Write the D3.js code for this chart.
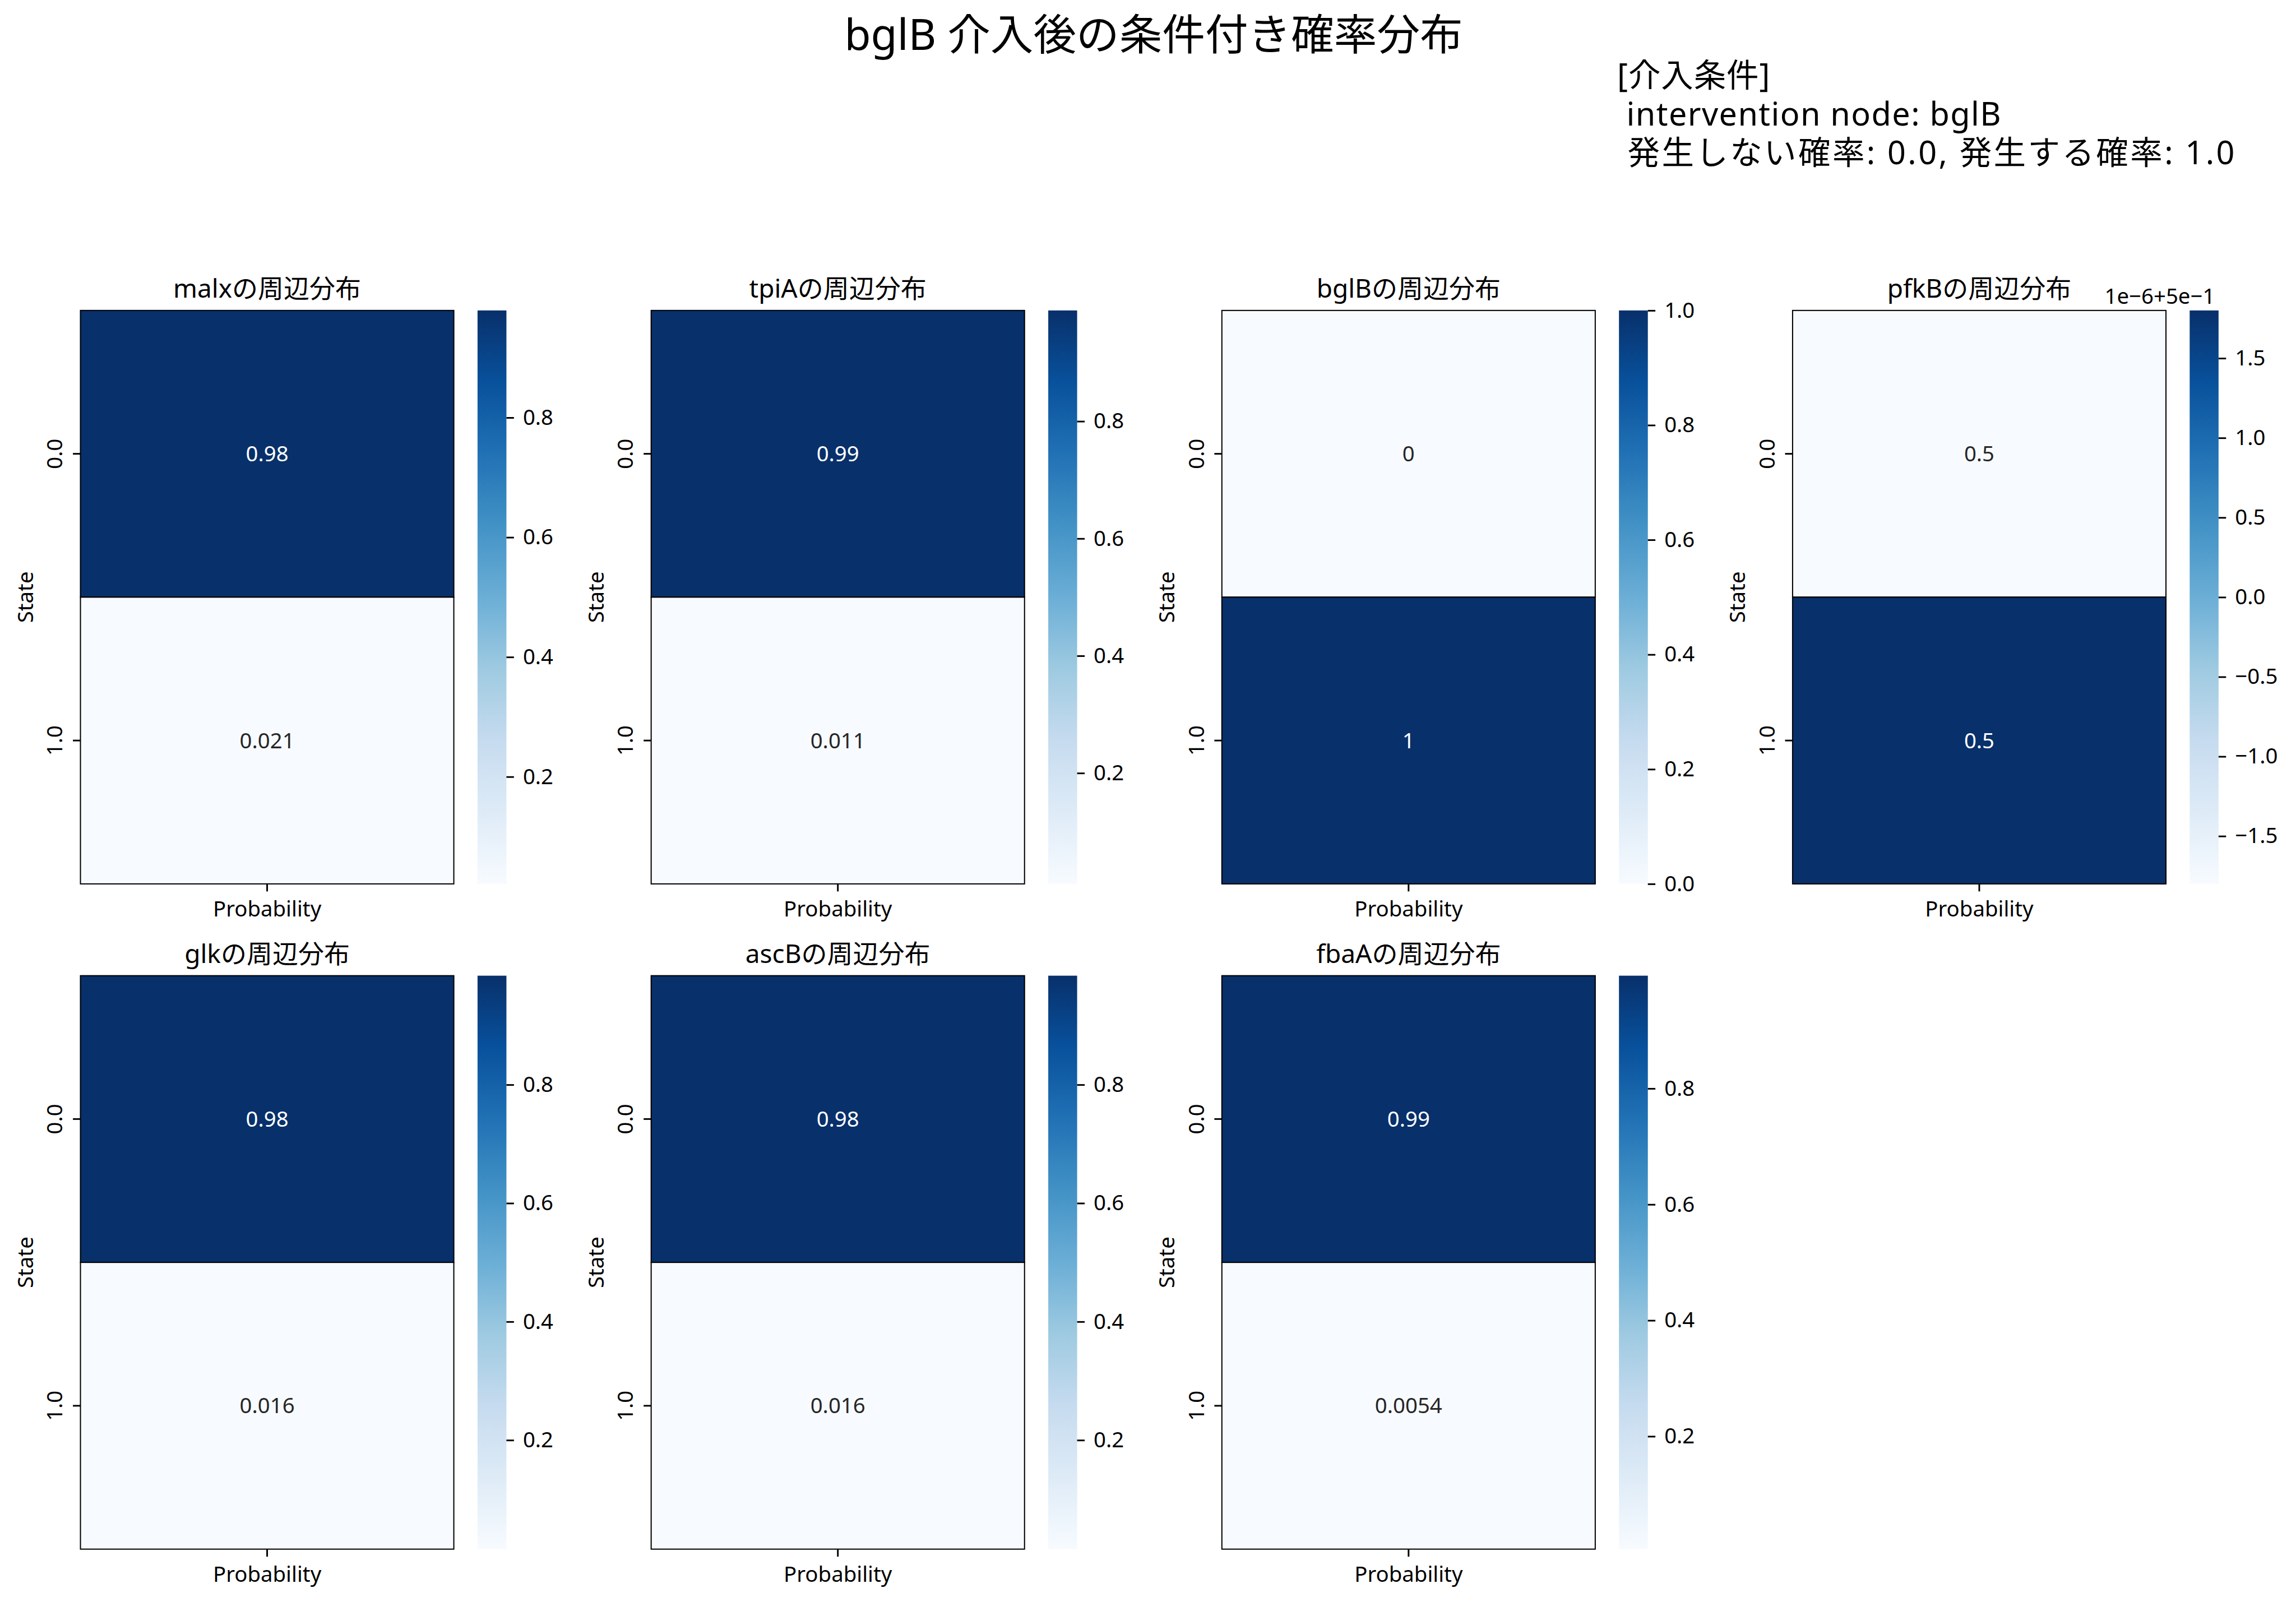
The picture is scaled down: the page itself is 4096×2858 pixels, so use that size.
<!DOCTYPE html>
<html><head><meta charset="utf-8">
<script src="https://cdn.jsdelivr.net/npm/d3@7"></script>
<style>body{margin:0;background:#fff;} svg{display:block;}</style>
</head><body>
<svg id="chart" width="4096" height="2858"></svg>
<script>
// ---------- data ----------
const nodes = ["malx","tpiA","bglB","pfkB","glk","ascB","fbaA"];
const states = ["0.0","1.0"];
const xCategory = ["Probability"];
const probState0 = [0.979, 0.989, 0.0, 0.4999982, 0.984, 0.984, 0.9946];
const probState1 = [0.021, 0.011, 1.0, 0.5000018, 0.016, 0.016, 0.0054];
const cbarTickValues = [
  [0.2,0.4,0.6,0.8],
  [0.2,0.4,0.6,0.8],
  [0.0,0.2,0.4,0.6,0.8,1.0],
  [0.4999985,0.499999,0.4999995,0.5,0.5000005,0.500001,0.5000015],
  [0.2,0.4,0.6,0.8],
  [0.2,0.4,0.6,0.8],
  [0.2,0.4,0.6,0.8]
];
const cbarTickLabels = [
  ["0.2","0.4","0.6","0.8"],
  ["0.2","0.4","0.6","0.8"],
  ["0.0","0.2","0.4","0.6","0.8","1.0"],
  ["\u22121.5","\u22121.0","\u22120.5","0.0","0.5","1.0","1.5"],
  ["0.2","0.4","0.6","0.8"],
  ["0.2","0.4","0.6","0.8"],
  ["0.2","0.4","0.6","0.8"]
];
const cbarOffsetText = ["","","","1e\u22126+5e\u22121","","",""];
const blues = ["#f7fbff","#deebf7","#c6dbef","#9ecae1","#6baed6","#4292c6","#2171b5","#08519c","#08306b"];
const suptitle = "bglB 介入後の条件付き確率分布";
const noteLines = ["[介入条件]", " intervention node: bglB", " 発生しない確率: 0.0, 発生する確率: 1.0"];
const subTitleSuffix = "の周辺分布";
const yLabel = "State";

// ---------- layout (reference px, scaled by S) ----------
const S = 0.92;
const FONT = "'Noto Sans', 'Noto Sans CJK JP', sans-serif";
const colLeft0 = 156, colStep = 1106.67;
const rowTops = [602, 1892];
const axW = 724, axH = 1112;
const cbOff = 770, cbW = 56;
const tickLen = 14.6, tickW = 3.2;
const noteLineLen = [296, 744, 1197];

const svg = d3.select("#chart");
const defs = svg.append("defs");
const grad = defs.append("linearGradient").attr("id","bluesGrad")
  .attr("x1",0).attr("y1",1).attr("x2",0).attr("y2",0);
blues.forEach((c,k)=>grad.append("stop").attr("offset", k/(blues.length-1)).attr("stop-color", c));

// suptitle
svg.append("text").attr("x", 2237*S).attr("y", 97*S)
  .attr("text-anchor","middle").attr("font-family",FONT).attr("font-size",83.3*S)
  .attr("fill","#000").text(suptitle);

// annotation block
noteLines.forEach((ln,k)=>{
  svg.append("text").attr("font-family",FONT).attr("font-size",62.5*S)
    .attr("fill","#000").style("white-space","pre")
    .attr("x",3136*S).attr("y",(169 + k*75)*S)
    .attr("textLength", noteLineLen[k]*S).attr("lengthAdjust","spacing")
    .text(ln);
});

const fmt = d3.format(".2~g");

function luminance(c){
  const r = d3.rgb(c);
  const f = v => { v/=255; return v <= 0.03928 ? v/12.92 : Math.pow((v+0.055)/1.055, 2.4); };
  return 0.2126*f(r.r) + 0.7152*f(r.g) + 0.0722*f(r.b);
}

nodes.forEach((name, i) => {
  const row = Math.floor(i/4), col = i % 4;
  const L = (colLeft0 + col*colStep)*S;
  const T = rowTops[row]*S;
  const W = axW*S, H = axH*S;
  const vals = [probState0[i], probState1[i]];
  const vmin = d3.min(vals), vmax = d3.max(vals);
  const color = d3.scaleLinear()
    .domain(blues.map((_,k)=> vmin + k/(blues.length-1)*(vmax-vmin)))
    .range(blues).interpolate(d3.interpolateRgb).clamp(true);

  const g = svg.append("g");
  const y = d3.scaleBand().domain(states).range([T, T+H]);
  const x = d3.scaleBand().domain(xCategory).range([L, L+W]);

  // cells
  states.forEach((s, k) => {
    g.append("rect").attr("x", x(xCategory[0])).attr("y", y(s))
      .attr("width", x.bandwidth()).attr("height", y.bandwidth())
      .attr("fill", color(vals[k])).attr("stroke","#000").attr("stroke-width", 2.2*S);
  });
  states.forEach((s, k) => {
    const c = color(vals[k]);
    g.append("text").attr("x", x(xCategory[0]) + x.bandwidth()/2)
      .attr("y", y(s) + y.bandwidth()/2).attr("dy","0.35em")
      .attr("text-anchor","middle").attr("font-family",FONT).attr("font-size",41.7*S)
      .attr("fill", luminance(c) > 0.408 ? "#262626" : "#ffffff")
      .text(fmt(vals[k]));
  });

  // y axis
  const ya = g.append("g").attr("transform",`translate(${L},0)`)
    .call(d3.axisLeft(y).tickSize(tickLen*S).tickPadding(0));
  ya.select(".domain").remove();
  ya.selectAll("line").attr("stroke","#000").attr("stroke-width",tickW*S);
  ya.selectAll("text").attr("x",0).attr("dy",0)
    .attr("transform",`translate(${-35*S},0) rotate(-90)`)
    .attr("text-anchor","middle").attr("font-family",FONT).attr("font-size",41.7*S).attr("fill","#000");

  // x axis
  const xa = g.append("g").attr("transform",`translate(0,${T+H})`)
    .call(d3.axisBottom(x).tickSize(tickLen*S).tickPadding(0));
  xa.select(".domain").remove();
  xa.selectAll("line").attr("stroke","#000").attr("stroke-width",tickW*S);
  xa.selectAll("text").attr("y",63*S).attr("dy",0)
    .attr("font-family",FONT).attr("font-size",41.7*S).attr("fill","#000");

  // y label
  g.append("text").attr("transform",`translate(${L-92*S},${T+H/2}) rotate(-90)`)
    .attr("text-anchor","middle").attr("font-family",FONT).attr("font-size",41.7*S)
    .attr("fill","#000").text(yLabel);

  // subplot title
  g.append("text").attr("x", L+W/2).attr("y", T-25*S)
    .attr("text-anchor","middle").attr("font-family",FONT).attr("font-size",50*S)
    .attr("fill","#000").text(name + subTitleSuffix);

  // colorbar
  const cL = L + cbOff*S;
  g.append("rect").attr("x", cL).attr("y", T).attr("width", cbW*S).attr("height", H)
    .attr("fill","url(#bluesGrad)");
  const cs = d3.scaleLinear().domain([vmin, vmax]).range([T+H, T]);
  const labels = cbarTickLabels[i];
  const ca = g.append("g").attr("transform",`translate(${cL + cbW*S},0)`)
    .call(d3.axisRight(cs).tickValues(cbarTickValues[i])
      .tickFormat((d,k)=>labels[k]).tickSize(tickLen*S).tickPadding(17.4*S));
  ca.select(".domain").remove();
  ca.selectAll("line").attr("stroke","#000").attr("stroke-width",tickW*S);
  ca.selectAll("text").attr("font-family",FONT).attr("font-size",41.7*S).attr("fill","#000");
  if (cbarOffsetText[i]) {
    g.append("text").attr("x", cL + cbW*S - 7*S).attr("y", T - 13*S)
      .attr("text-anchor","end").attr("font-family",FONT).attr("font-size",41.7*S)
      .attr("fill","#000").text(cbarOffsetText[i]);
  }
});
</script>
</body></html>
